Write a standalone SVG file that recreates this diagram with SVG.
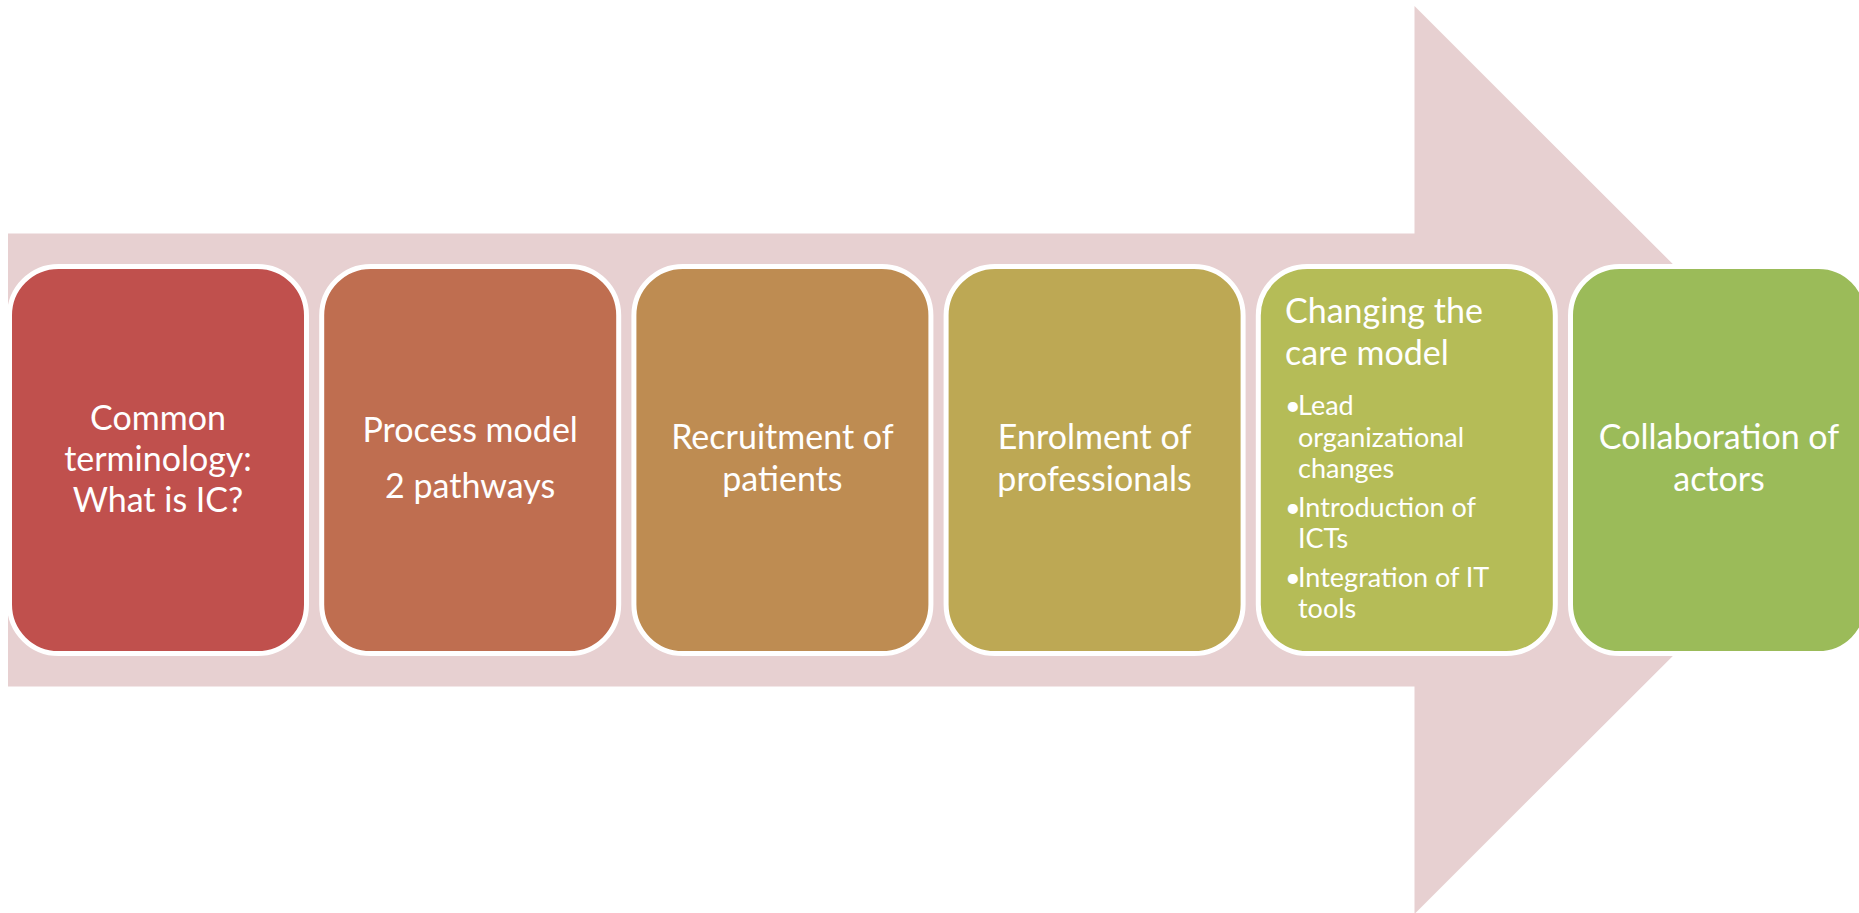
<svg xmlns="http://www.w3.org/2000/svg" width="1859" height="913" viewBox="0 0 1859 913">
<style>
.box{stroke:#FFFFFF;stroke-width:5}
.t{font-family:Lato,"Open Sans","Liberation Sans",sans-serif;font-size:34px;fill:#FFFFFF;text-anchor:middle}
.tl{font-family:Lato,"Open Sans","Liberation Sans",sans-serif;font-size:34px;fill:#FFFFFF}
.b{font-family:Lato,"Open Sans","Liberation Sans",sans-serif;font-size:27px;fill:#FFFFFF}
</style>
<rect x="0" y="0" width="1859" height="913" fill="#FFFFFF"/>
<g id="arrow">
<polygon points="8,233.5 1414.5,233.5 1414.5,6 1869,460 1414.5,914 1414.5,686.5 8,686.5" fill="#E7D0D1"/>
</g>
<g id="connectors"></g>
<g id="node1">
<rect class="box" x="9.5" y="266.5" width="297" height="387" rx="49" fill="#C0504D"/>
<text class="t" x="158" y="430">Common</text>
<text class="t" x="158" y="471">terminology:</text>
<text class="t" x="158" y="512">What is IC?</text>
</g>
<g id="node2">
<rect class="box" x="321.7" y="266.5" width="297" height="387" rx="49" fill="#BF6E50"/>
<text class="t" x="470.2" y="442">Process model</text>
<text class="t" x="470.2" y="498">2 pathways</text>
</g>
<g id="node3">
<rect class="box" x="633.9" y="266.5" width="297" height="387" rx="49" fill="#BE8C52"/>
<text class="t" x="782.4" y="449">Recruitment of</text>
<text class="t" x="782.4" y="491">patients</text>
</g>
<g id="node4">
<rect class="box" x="946.1" y="266.5" width="297" height="387" rx="49" fill="#BDA854"/>
<text class="t" x="1094.6" y="449">Enrolment of</text>
<text class="t" x="1094.6" y="491">professionals</text>
</g>
<g id="node5">
<rect class="box" x="1258.3" y="266.5" width="297" height="387" rx="49" fill="#B5BC57"/>
<text class="tl" x="1285" y="323">Changing the</text>
<text class="tl" x="1285" y="365">care model</text>
<text class="b" x="1285" y="415">•</text>
<text class="b" x="1298" y="415">Lead</text>
<text class="b" x="1298" y="447">organizational</text>
<text class="b" x="1298" y="478">changes</text>
<text class="b" x="1285" y="517">•</text>
<text class="b" x="1298" y="517">Introduction of</text>
<text class="b" x="1298" y="548">ICTs</text>
<text class="b" x="1285" y="587">•</text>
<text class="b" x="1298" y="587">Integration of IT</text>
<text class="b" x="1298" y="618">tools</text>
</g>
<g id="node6">
<rect class="box" x="1570.5" y="266.5" width="297" height="387" rx="49" fill="#9BBB59"/>
<text class="t" x="1719" y="449">Collaboration of</text>
<text class="t" x="1719" y="491">actors</text>
</g>
</svg>
